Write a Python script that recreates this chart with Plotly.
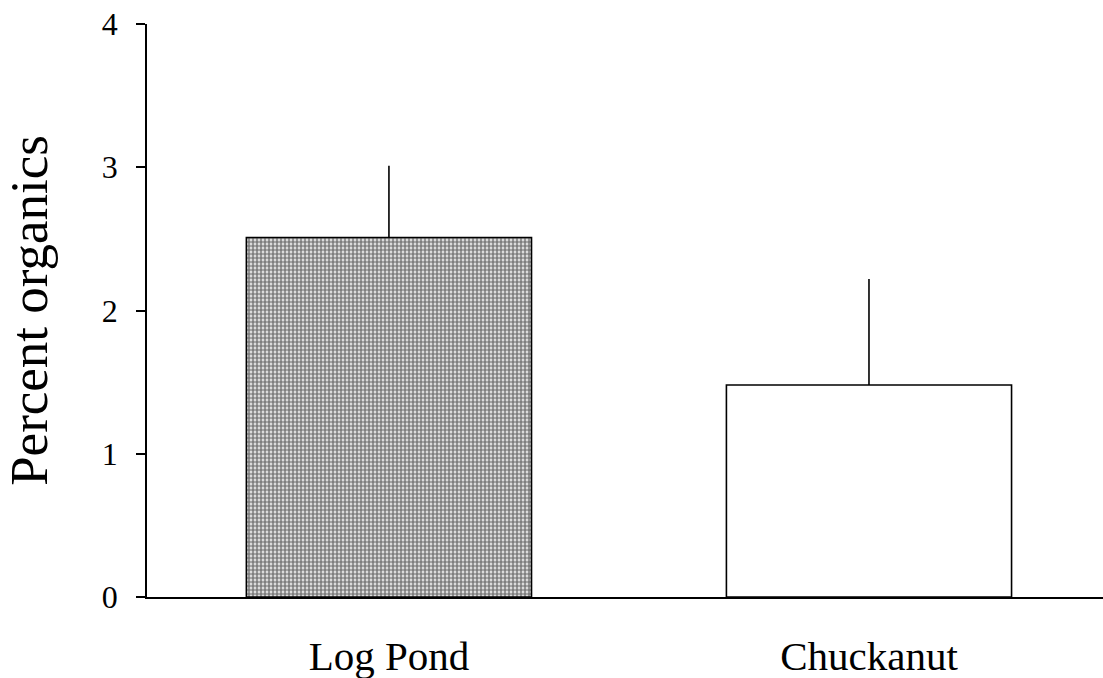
import plotly.graph_objects as go

categories = ["Log Pond", "Chuckanut"]
values = [2.51, 1.48]
errors_up = [0.50, 0.74]
y_ticks = [0, 1, 2, 3, 4]

fig = go.Figure()
fig.add_trace(go.Bar(
    x=categories,
    y=values,
    width=0.594,
    marker=dict(
        color="white",
        line=dict(color="black", width=1.6),
        pattern=dict(shape=[".", ""], fgcolor="black", bgcolor="white", size=4, solidity=0.7),
    ),
    error_y=dict(type="data", array=errors_up, arrayminus=[0, 0], symmetric=False,
                 color="black", thickness=1.6, width=0),
))

fig.update_layout(
    width=1103, height=678,
    margin=dict(l=147, r=0, t=24, b=81),
    plot_bgcolor="white", paper_bgcolor="white",
    showlegend=False,
    font=dict(family="Liberation Serif", color="black"),
    xaxis=dict(
        range=[-0.504, 1.4875],
        showline=True, linecolor="black", linewidth=1.6,
        ticks="", showgrid=False, zeroline=False,
        tickfont=dict(size=41), ticklabelstandoff=22,
    ),
    yaxis=dict(
        range=[0, 4], tickvals=y_ticks,
        showline=True, linecolor="black", linewidth=1.6,
        ticks="outside", ticklen=9, tickwidth=1.6, tickcolor="black",
        showgrid=False, zeroline=False,
        tickfont=dict(size=32), ticklabelstandoff=12,
        title=dict(text="Percent organics", font=dict(size=53), standoff=38),
    ),
)

fig.write_html("out.html")
